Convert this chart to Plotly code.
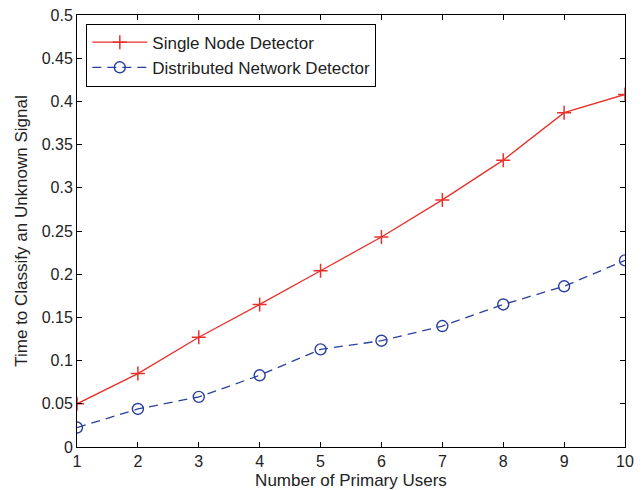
import plotly.graph_objects as go

users = [1, 2, 3, 4, 5, 6, 7, 8, 9, 10]
single_node = [0.050, 0.085, 0.127, 0.165, 0.204, 0.243, 0.286, 0.332, 0.387, 0.408]
distributed = [0.0225, 0.044, 0.058, 0.083, 0.113, 0.123, 0.140, 0.165, 0.186, 0.216]
y_ticks = [0, 0.05, 0.1, 0.15, 0.2, 0.25, 0.3, 0.35, 0.4, 0.45, 0.5]
y_tick_text = ["0", "0.05", "0.1", "0.15", "0.2", "0.25", "0.3", "0.35", "0.4", "0.45", "0.5"]

RED = "#e8302a"
BLUE = "#2b3f9f"
FONT = "Liberation Sans, Arial, Helvetica, sans-serif"

fig = go.Figure()
fig.add_trace(go.Scatter(
    x=users, y=single_node, name="Single Node Detector",
    mode="lines+markers",
    line=dict(color=RED, width=1.3),
    marker=dict(symbol="cross-thin", size=10, line=dict(color=RED, width=1.5)),
))
fig.add_trace(go.Scatter(
    x=users, y=distributed, name="Distributed Network Detector",
    mode="lines+markers",
    line=dict(color=BLUE, width=1.3, dash="9px,6px"),
    marker=dict(symbol="circle-open", size=11, color=BLUE, line=dict(color=BLUE, width=1.4)),
))

axis_common = dict(
    showline=True, linecolor="black", linewidth=1, mirror="ticks",
    ticks="inside", ticklen=5, tickcolor="black", tickwidth=1,
    showgrid=False, zeroline=False, automargin=False,
    tickfont=dict(family=FONT, size=16, color="#222"),
)

fig.update_layout(
    width=643, height=490,
    margin=dict(l=77, r=18, t=15, b=43),
    paper_bgcolor="white", plot_bgcolor="white",
    font=dict(family=FONT, size=16, color="#222"),
    xaxis=dict(range=[1, 10], tickvals=users,
               title=dict(text="Number of Primary Users", font=dict(size=17), standoff=4),
               **axis_common),
    yaxis=dict(range=[0, 0.5], tickvals=y_ticks, ticktext=y_tick_text,
               title=dict(text="Time to Classify an Unknown Signal", font=dict(size=17), standoff=9),
               **axis_common),
    legend=dict(x=0.017, y=0.98, xanchor="left", yanchor="top",
                bgcolor="white", bordercolor="black", borderwidth=1,
                font=dict(family=FONT, size=17, color="#222"),
                tracegroupgap=0, itemwidth=55),
    showlegend=True,
)

fig.write_html("out.html", config={"displayModeBar": False},
               post_script="document.body.style.margin='0';")
